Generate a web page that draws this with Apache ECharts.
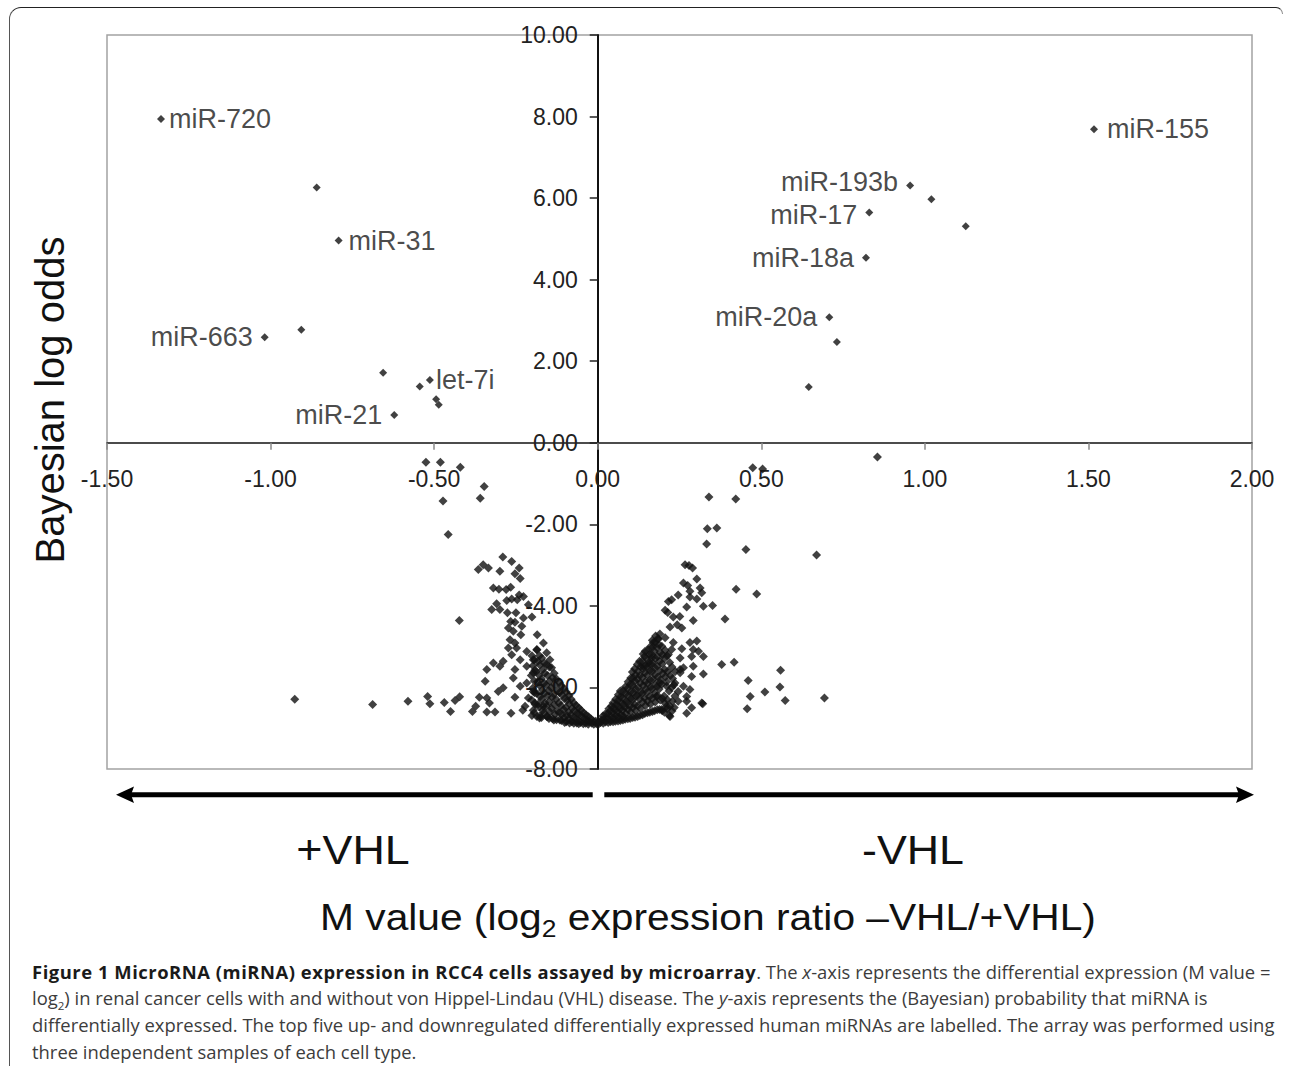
<!DOCTYPE html>
<html>
<head>
<meta charset="utf-8">
<script src="https://cdn.jsdelivr.net/npm/echarts@6/dist/echarts.min.js"></script>
<style>
html,body{margin:0;padding:0;background:#fff;}
#wrap{position:relative;width:1290px;height:1070px;overflow:hidden;background:#fff;}
#chart{position:absolute;left:0;top:0;width:1290px;height:1070px;}
#frame{position:absolute;left:9px;top:7px;width:1262px;height:1058px;border-top:1.5px solid #222;border-left:1.5px solid #555;border-top-left-radius:12px;pointer-events:none;}
#frameR{position:absolute;left:1262px;top:7px;width:20px;height:6px;border-top:1.5px solid #222;border-right:1px solid #888;border-top-right-radius:10px;pointer-events:none;}
#caption{position:absolute;left:32px;top:958.5px;font-family:'Open Sans','Noto Sans',sans-serif;font-size:17.5px;line-height:26.7px;color:#3c3c3c;white-space:nowrap;transform:scaleX(1.052);transform-origin:0 0;}
#caption b{color:#1a1a1a;letter-spacing:0.5px;}
#caption sub{font-size:11px;line-height:0;}
</style>
</head>
<body>
<div id="wrap">
  <div id="chart"></div>
  <div id="frame"></div>
  <div id="frameR"></div>
  <div id="caption"><b>Figure 1 MicroRNA (miRNA) expression in RCC4 cells assayed by microarray</b>. The <i>x</i>-axis represents the differential expression (M value =<br>log<sub>2</sub>) in renal cancer cells with and without von Hippel-Lindau (VHL) disease. The <i>y</i>-axis represents the (Bayesian) probability that miRNA is<br>differentially expressed. The top five up- and downregulated differentially expressed human miRNAs are labelled. The array was performed using<br>three independent samples of each cell type.</div>
</div>
<script>
// ---- axis ticks ----
var xTicks = [-1.5, -1.0, -0.5, 0.0, 0.5, 1.0, 1.5, 2.0];
var yTicks = [-8, -6, -4, -2, 0, 2, 4, 6, 8, 10];

// ---- labelled miRNAs ----
var labelNames = ['miR-720', 'miR-31', 'miR-663', 'let-7i', 'miR-21', 'miR-155', 'miR-193b', 'miR-17', 'miR-18a', 'miR-20a'];
var labelM     = [-1.335, -0.792, -1.018, -0.513, -0.622, 1.517, 0.955, 0.830, 0.820, 0.708];
var labelOdds  = [7.94, 4.96, 2.59, 1.54, 0.68, 7.69, 6.31, 5.65, 4.54, 3.08];
var labelSide  = ['right', 'right', 'left', 'right', 'left', 'right', 'left', 'left', 'left', 'left'];

// ---- other significant (unlabelled) points ----
var upperPoints = [
  [-0.859, 6.26], [-0.906, 2.77], [-0.656, 1.72], [-0.544, 1.38], [-0.494, 1.07], [-0.486, 0.93],
  [1.020, 5.97], [1.125, 5.31], [0.731, 2.47], [0.645, 1.37]
];

// ---- sparse points, left (+VHL) side ----
var sparseLeft = [
  [-0.525, -0.48], [-0.481, -0.48], [-0.420, -0.60], [-0.347, -1.07], [-0.359, -1.36], [-0.473, -1.43],
  [-0.457, -2.25], [-0.423, -4.36],
  [-0.926, -6.29], [-0.688, -6.42], [-0.580, -6.34], [-0.520, -6.22], [-0.513, -6.40], [-0.469, -6.37],
  [-0.450, -6.59], [-0.436, -6.32], [-0.422, -6.23], [-0.383, -6.59], [-0.373, -6.46], [-0.362, -6.24],
  [-0.339, -6.26], [-0.331, -6.38], [-0.339, -6.60], [-0.314, -6.60], [-0.265, -6.63], [-0.253, -6.24],
  [-0.229, -6.56], [-0.222, -6.46]
];

var clusterLeft = [
  [-0.290, -2.80], [-0.263, -2.91], [-0.365, -3.11], [-0.350, -2.99], [-0.334, -3.07], [-0.299, -3.15],
  [-0.240, -3.07], [-0.253, -3.21], [-0.237, -3.33],
  [-0.319, -3.56], [-0.302, -3.59], [-0.280, -3.60], [-0.266, -3.54], [-0.240, -3.73], [-0.227, -3.77], [-0.246, -3.85],
  [-0.278, -3.87], [-0.263, -3.83], [-0.309, -3.95], [-0.299, -4.09], [-0.324, -4.09], [-0.212, -3.97],
  [-0.276, -4.17], [-0.250, -4.17], [-0.227, -4.30], [-0.201, -4.27],
  [-0.266, -4.38], [-0.253, -4.40], [-0.232, -4.50], [-0.273, -4.54], [-0.258, -4.62], [-0.235, -4.71], [-0.185, -4.71],
  [-0.268, -4.83], [-0.253, -4.91], [-0.273, -5.03], [-0.248, -5.03], [-0.217, -5.12], [-0.263, -5.20], [-0.237, -5.32],
  [-0.186, -5.07], [-0.166, -4.91], [-0.156, -5.15], [-0.197, -5.32], [-0.146, -5.32],
  [-0.339, -5.56], [-0.319, -5.40], [-0.299, -5.48], [-0.289, -5.36], [-0.253, -5.56], [-0.217, -5.48],
  [-0.197, -5.64], [-0.344, -5.85], [-0.258, -5.77],
  [-0.304, -6.10], [-0.289, -6.01], [-0.237, -5.97], [-0.217, -5.89], [-0.197, -6.10], [-0.212, -6.26],
  [-0.192, -6.38], [-0.166, -6.46], [-0.178, -6.75], [-0.156, -6.71]
];

var denseLeft = [
  [-0.201, -5.22], [-0.198, -5.47], [-0.203, -5.71], [-0.199, -6.02], [-0.202, -6.31], [-0.197, -6.56], [-0.201, -6.69],
  [-0.186, -5.08], [-0.183, -5.36], [-0.188, -5.61], [-0.184, -5.86], [-0.187, -6.14], [-0.182, -6.41], [-0.186, -6.71],
  [-0.171, -5.28], [-0.168, -5.56], [-0.172, -5.79], [-0.169, -6.06], [-0.171, -6.29], [-0.168, -6.56], [-0.172, -6.74],
  [-0.156, -5.44], [-0.153, -5.71], [-0.157, -5.94], [-0.154, -6.21], [-0.156, -6.46], [-0.153, -6.72],
  [-0.141, -5.52], [-0.138, -5.76], [-0.142, -6.01], [-0.139, -6.24], [-0.141, -6.51], [-0.138, -6.77],
  [-0.126, -5.79], [-0.123, -6.06], [-0.127, -6.29], [-0.124, -6.56], [-0.126, -6.79],
  [-0.111, -5.96], [-0.108, -6.19], [-0.112, -6.44], [-0.109, -6.66], [-0.111, -6.81],
  [-0.096, -6.11], [-0.093, -6.31], [-0.097, -6.49], [-0.094, -6.69], [-0.096, -6.84],
  [-0.081, -6.29], [-0.078, -6.51], [-0.082, -6.67], [-0.079, -6.84],
  [-0.066, -6.44], [-0.063, -6.63], [-0.067, -6.77], [-0.064, -6.87],
  [-0.051, -6.56], [-0.048, -6.71], [-0.052, -6.86],
  [-0.036, -6.67], [-0.033, -6.79], [-0.037, -6.88],
  [-0.021, -6.77], [-0.018, -6.88],
  [-0.006, -6.83], [-0.004, -6.89]
];

var denseLeftB = [
  [-0.193, -5.33], [-0.192, -5.58], [-0.194, -5.84], [-0.193, -6.13], [-0.191, -6.42], [-0.194, -6.62],
  [-0.178, -5.22], [-0.177, -5.45], [-0.179, -5.70], [-0.178, -5.95], [-0.176, -6.22], [-0.179, -6.48], [-0.177, -6.70],
  [-0.163, -5.40], [-0.162, -5.65], [-0.164, -5.90], [-0.163, -6.14], [-0.161, -6.38], [-0.164, -6.62],
  [-0.148, -5.50], [-0.147, -5.84], [-0.149, -6.08], [-0.148, -6.35], [-0.146, -6.60], [-0.149, -6.76],
  [-0.133, -5.65], [-0.132, -5.92], [-0.134, -6.16], [-0.133, -6.42], [-0.131, -6.66], [-0.134, -6.80],
  [-0.118, -5.88], [-0.117, -6.13], [-0.119, -6.38], [-0.118, -6.62], [-0.116, -6.80],
  [-0.103, -6.03], [-0.102, -6.28], [-0.104, -6.54], [-0.103, -6.74], [-0.101, -6.86],
  [-0.088, -6.20], [-0.087, -6.40], [-0.089, -6.60], [-0.088, -6.78], [-0.086, -6.87],
  [-0.073, -6.38], [-0.072, -6.57], [-0.074, -6.74], [-0.073, -6.88],
  [-0.058, -6.50], [-0.057, -6.66], [-0.059, -6.82], [-0.058, -6.89],
  [-0.043, -6.62], [-0.042, -6.76], [-0.044, -6.89],
  [-0.028, -6.72], [-0.027, -6.85], [-0.029, -6.90],
  [-0.013, -6.82], [-0.012, -6.90]
];

// ---- sparse points, right (-VHL) side ----
var sparseRight = [
  [0.855, -0.35], [0.474, -0.61], [0.504, -0.64], [0.340, -1.33], [0.422, -1.38], [0.335, -2.11], [0.364, -2.09],
  [0.333, -2.48], [0.453, -2.62], [0.669, -2.75], [0.423, -3.59], [0.486, -3.71], [0.389, -4.32], [0.351, -3.99],
  [0.379, -5.44], [0.417, -5.38], [0.460, -5.83], [0.466, -6.22], [0.457, -6.52], [0.559, -5.58], [0.557, -5.99],
  [0.511, -6.11], [0.573, -6.32], [0.693, -6.26], [0.321, -6.40]
];

var clusterRight = [
  [0.267, -2.99], [0.279, -3.01], [0.290, -3.07], [0.303, -3.34],
  [0.262, -3.44], [0.275, -3.50], [0.282, -3.64], [0.313, -3.56], [0.318, -3.68], [0.246, -3.73], [0.226, -3.85], [0.216, -3.89],
  [0.282, -3.78], [0.303, -3.83], [0.323, -4.01], [0.272, -4.03],
  [0.206, -4.11], [0.214, -4.16], [0.231, -4.27], [0.251, -4.26], [0.292, -4.36], [0.221, -4.52], [0.243, -4.46], [0.257, -4.54],
  [0.185, -4.82], [0.206, -4.78], [0.196, -4.99], [0.170, -4.90], [0.231, -4.90], [0.226, -5.07], [0.216, -5.19],
  [0.257, -5.05], [0.282, -4.90], [0.303, -4.86], [0.292, -5.07], [0.308, -5.11], [0.323, -5.24], [0.287, -5.24],
  [0.252, -5.28], [0.252, -5.56], [0.165, -5.28], [0.155, -5.40], [0.139, -5.48],
  [0.323, -5.67], [0.287, -5.73], [0.262, -5.52], [0.252, -5.64], [0.292, -5.48],
  [0.236, -5.89], [0.262, -5.97], [0.282, -6.05], [0.246, -6.10], [0.272, -6.22], [0.246, -6.34], [0.272, -6.34],
  [0.211, -6.46], [0.318, -6.38], [0.272, -6.63], [0.287, -6.50], [0.221, -6.71], [0.196, -6.54], [0.180, -6.22],
  [0.211, -5.97], [0.190, -5.89]
];

var denseRight = [
  [0.009, -6.86], [0.011, -6.80],
  [0.024, -6.85], [0.026, -6.74], [0.023, -6.65],
  [0.039, -6.84], [0.041, -6.71], [0.038, -6.58], [0.042, -6.46],
  [0.054, -6.83], [0.056, -6.69], [0.053, -6.56], [0.057, -6.41], [0.055, -6.29],
  [0.069, -6.81], [0.071, -6.67], [0.068, -6.53], [0.072, -6.37], [0.070, -6.23], [0.069, -6.09],
  [0.084, -6.78], [0.086, -6.64], [0.083, -6.49], [0.087, -6.34], [0.085, -6.16], [0.084, -5.99],
  [0.099, -6.76], [0.101, -6.61], [0.098, -6.46], [0.102, -6.27], [0.100, -6.11], [0.099, -5.93], [0.101, -5.77],
  [0.114, -6.73], [0.116, -6.57], [0.113, -6.41], [0.117, -6.21], [0.115, -6.03], [0.114, -5.84], [0.116, -5.69], [0.113, -5.54],
  [0.129, -6.69], [0.131, -6.51], [0.128, -6.29], [0.132, -6.11], [0.130, -5.89], [0.129, -5.71], [0.131, -5.49], [0.128, -5.36],
  [0.144, -6.64], [0.146, -6.44], [0.143, -6.26], [0.147, -6.04], [0.145, -5.86], [0.144, -5.64], [0.146, -5.46], [0.143, -5.24], [0.145, -5.11],
  [0.159, -6.61], [0.161, -6.41], [0.158, -6.23], [0.162, -5.99], [0.160, -5.81], [0.159, -5.59], [0.161, -5.41], [0.158, -5.19], [0.160, -5.01],
  [0.174, -6.57], [0.176, -6.36], [0.173, -6.14], [0.177, -5.91], [0.175, -5.69], [0.174, -5.51], [0.176, -5.29], [0.173, -5.11], [0.175, -4.89], [0.177, -4.74],
  [0.189, -6.54], [0.191, -6.31], [0.188, -6.04], [0.192, -5.81], [0.190, -5.59], [0.189, -5.36], [0.191, -5.14], [0.188, -4.96], [0.190, -4.69],
  [0.204, -6.61], [0.206, -6.39], [0.203, -6.21], [0.207, -5.74], [0.205, -5.56], [0.204, -5.29], [0.206, -5.09],
  [0.219, -6.69], [0.221, -6.46], [0.218, -6.09], [0.222, -5.71], [0.220, -5.39],
  [0.234, -6.49], [0.236, -6.21], [0.233, -5.94], [0.237, -5.61]
];

var denseRightB = [
  [0.002, -6.90], [0.003, -6.84],
  [0.017, -6.88], [0.018, -6.78], [0.016, -6.70],
  [0.032, -6.86], [0.033, -6.76], [0.031, -6.64], [0.034, -6.52],
  [0.047, -6.84], [0.048, -6.74], [0.046, -6.62], [0.049, -6.50], [0.047, -6.38],
  [0.062, -6.82], [0.063, -6.72], [0.061, -6.60], [0.064, -6.46], [0.062, -6.32], [0.063, -6.18],
  [0.077, -6.80], [0.078, -6.70], [0.076, -6.56], [0.079, -6.42], [0.077, -6.26], [0.078, -6.08],
  [0.092, -6.77], [0.093, -6.54], [0.091, -6.37], [0.094, -6.19], [0.092, -6.02], [0.093, -5.86],
  [0.107, -6.74], [0.108, -6.49], [0.106, -6.31], [0.109, -6.12], [0.107, -5.94], [0.108, -5.76], [0.106, -5.62],
  [0.122, -6.71], [0.123, -6.45], [0.121, -6.20], [0.124, -6.00], [0.122, -5.80], [0.123, -5.60], [0.121, -5.44],
  [0.137, -6.67], [0.138, -6.36], [0.136, -6.15], [0.139, -5.95], [0.137, -5.75], [0.138, -5.55], [0.136, -5.35], [0.139, -5.18],
  [0.152, -6.62], [0.153, -6.33], [0.151, -6.12], [0.154, -5.90], [0.152, -5.70], [0.153, -5.50], [0.151, -5.30], [0.154, -5.08],
  [0.167, -6.59], [0.168, -6.26], [0.166, -6.04], [0.169, -5.80], [0.167, -5.60], [0.168, -5.40], [0.166, -5.20], [0.169, -5.00], [0.167, -4.84],
  [0.182, -6.55], [0.183, -6.20], [0.181, -5.98], [0.184, -5.74], [0.182, -5.48], [0.183, -5.24], [0.181, -5.02], [0.184, -4.80],
  [0.197, -6.57], [0.198, -6.28], [0.196, -5.92], [0.199, -5.66], [0.197, -5.42], [0.198, -5.20],
  [0.212, -6.52], [0.213, -6.30], [0.211, -5.86], [0.214, -5.60], [0.212, -5.22],
  [0.227, -6.58], [0.228, -6.34], [0.226, -6.00], [0.229, -5.78], [0.227, -5.50]
];

var FONT = "'Liberation Sans', Arial, Helvetica, sans-serif";
var INK = '#111';

var lowerPoints = sparseLeft.concat(clusterLeft, denseLeft, denseLeftB, sparseRight, clusterRight, denseRight, denseRightB);

var labelDist = { 'miR-720': 4, 'miR-31': 6, 'let-7i': 2, 'miR-155': 9 };
var labelShift = { 'miR-193b': -3, 'miR-17': 3 };
var labelData = labelNames.map(function (n, i) {
  var right = labelSide[i] === 'right';
  return {
    name: n,
    value: [labelM[i], labelOdds[i]],
    label: { position: labelSide[i], distance: right ? labelDist[n] : 8, offset: [0, labelShift[n] || 0] }
  };
});

// grid geometry (layout only)
var G = { left: 107, right: 38, top: 35, bottom: 301, width: 1145, height: 734 };
var xZeroOffset = -(G.width * (0 - xTicks[0]) / (xTicks[xTicks.length - 1] - xTicks[0]));
var yZeroOffset = -(G.height * (0 - yTicks[0]) / (yTicks[yTicks.length - 1] - yTicks[0]));

var chart = echarts.init(document.getElementById('chart'), null, { renderer: 'svg' });

var option = {
  animation: false,
  backgroundColor: 'transparent',
  textStyle: { fontFamily: FONT },
  grid: {
    left: G.left, right: G.right, top: G.top, bottom: G.bottom,
    show: true, borderColor: '#a3a3a3', borderWidth: 1.5, backgroundColor: 'transparent'
  },
  xAxis: {
    type: 'value',
    position: 'bottom',
    offset: yZeroOffset,
    min: xTicks[0], max: xTicks[xTicks.length - 1], interval: 0.5,
    axisLine: { show: true, onZero: false, lineStyle: { color: '#111', width: 1.5 } },
    axisTick: { show: true, length: 7, lineStyle: { color: '#8a8a8a', width: 1.5 } },
    axisLabel: {
      margin: 25, fontSize: 23, color: '#222', fontFamily: FONT,
      formatter: function (v) { return v.toFixed(2); }
    },
    splitLine: { show: false }
  },
  yAxis: {
    type: 'value',
    position: 'left',
    offset: xZeroOffset,
    min: yTicks[0], max: yTicks[yTicks.length - 1], interval: 2,
    axisLine: { show: true, onZero: false, lineStyle: { color: '#111', width: 2 } },
    axisTick: { show: true, length: 8, lineStyle: { color: '#222', width: 1.5 } },
    axisLabel: {
      margin: 20, fontSize: 23, color: '#222', fontFamily: FONT,
      formatter: function (v) { return v.toFixed(2); }
    },
    splitLine: { show: false }
  },
  series: [
    {
      type: 'scatter',
      name: 'upper',
      symbol: 'diamond',
      symbolSize: 8,
      itemStyle: { color: INK },
      data: upperPoints,
      silent: true
    },
    {
      type: 'scatter',
      name: 'lower',
      symbol: 'diamond',
      symbolSize: 9,
      itemStyle: { color: INK },
      data: lowerPoints,
      silent: true
    },
    {
      type: 'scatter',
      name: 'labelled',
      symbol: 'diamond',
      symbolSize: 8,
      itemStyle: { color: INK },
      data: labelData,
      silent: true,
      label: {
        show: true,
        formatter: '{b}',
        fontSize: 27,
        lineHeight: 22,
        color: '#1a1a1a',
        fontFamily: FONT
      }
    }
  ],
  graphic: [
    {
      type: 'text', x: 50, y: 400, rotation: Math.PI / 2,
      style: { text: 'Bayesian log odds', fontSize: 40, fontFamily: FONT, fill: '#111', align: 'center', verticalAlign: 'middle' }
    },
    { type: 'line', shape: { x1: 128, y1: 794.7, x2: 592.7, y2: 794.7 }, style: { stroke: '#000', lineWidth: 5 } },
    { type: 'polygon', shape: { points: [[116, 794.7], [134, 786.5], [131, 794.7], [134, 803]] }, style: { fill: '#000' } },
    { type: 'line', shape: { x1: 604.3, y1: 794.7, x2: 1242, y2: 794.7 }, style: { stroke: '#000', lineWidth: 5 } },
    { type: 'polygon', shape: { points: [[1254, 794.7], [1236, 786.5], [1239, 794.7], [1236, 803]] }, style: { fill: '#000' } },
    {
      type: 'text', x: 353, y: 850, scaleX: 1.12,
      style: { text: '+VHL', fontSize: 40, fontFamily: FONT, fill: '#111', align: 'center', verticalAlign: 'middle' }
    },
    {
      type: 'text', x: 913, y: 850, scaleX: 1.12,
      style: { text: '-VHL', fontSize: 40, fontFamily: FONT, fill: '#111', align: 'center', verticalAlign: 'middle' }
    },
    {
      type: 'text', x: 708, y: 917, scaleX: 1.1,
      style: {
        text: '{a|M value (log}{s|2}{a| expression ratio \u2013VHL/+VHL)}',
        align: 'center', verticalAlign: 'middle', fill: '#111',
        rich: {
          a: { fontSize: 37, fontFamily: FONT, lineHeight: 46, fill: '#111', color: '#111' },
          s: { fontSize: 24, fontFamily: FONT, lineHeight: 16, verticalAlign: 'bottom', fill: '#111', color: '#111' }
        }
      }
    }
  ]
};

chart.setOption(option);
</script>
</body>
</html>
